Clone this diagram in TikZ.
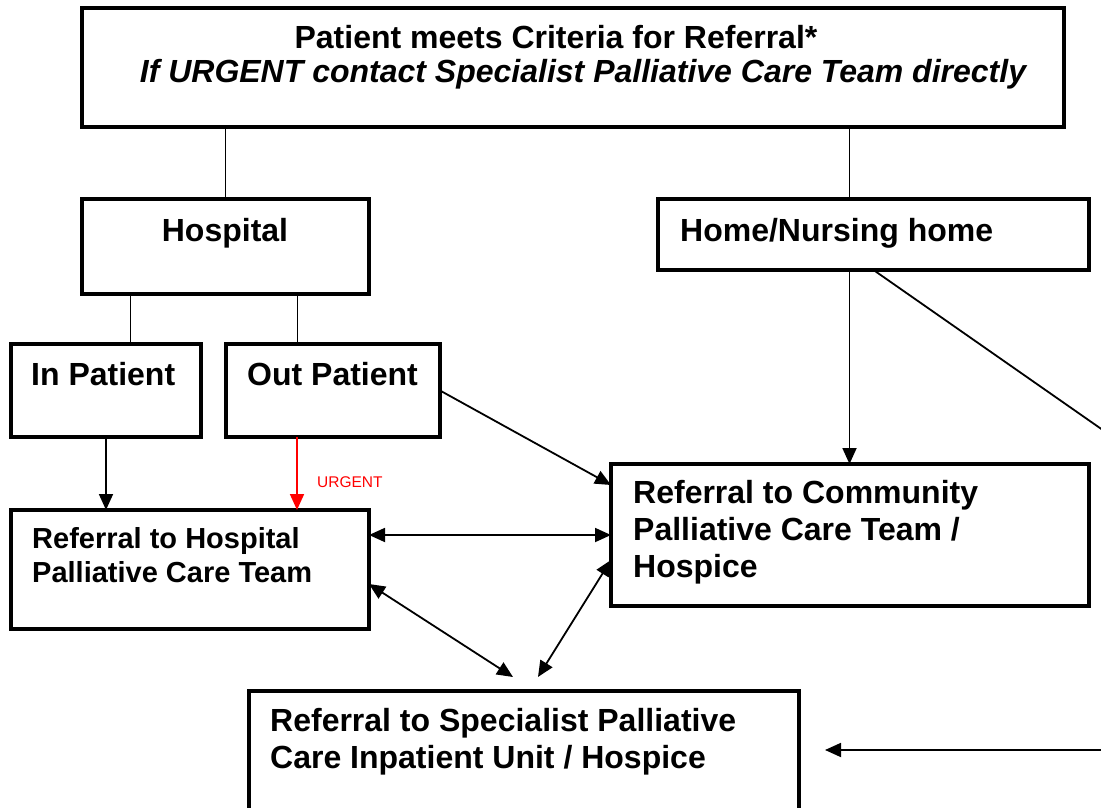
\documentclass[tikz,border=0pt]{standalone}
\usepackage{fontspec}
\setmainfont{Liberation Sans}
\usetikzlibrary{arrows.meta}
\begin{document}
\begin{tikzpicture}[
        x           = 1pt,
        y           = -1pt,
        box/.style  = {draw, black, line width=3.2pt, outer sep=0pt, inner sep=0pt, anchor=north west},
        txt/.style  = {inner sep=0pt, align=left, font=\fontsize{32}{37}\selectfont\bfseries},
        link/.style = {draw, black, line width=1.8pt},
        arr/.style  = {link, -{Triangle[length=16pt,width=14pt]}},
        both/.style = {link, {Triangle[length=16pt,width=14pt]}-{Triangle[length=16pt,width=14pt]}},
        urgent/.style = {inner sep=0pt, red, font=\fontsize{15.5}{18}\selectfont},
      ]
    \clip (0,0) rectangle (1101,808);
    % boxes
    \node[box, minimum width=982pt, minimum height=119pt] (top) at (82,8) {};
    \node[box, minimum width=287pt, minimum height=95pt] (hosp) at (82,199) {};
    \node[box, minimum width=431pt, minimum height=71pt] (home) at (658,199) {};
    \node[box, minimum width=190pt, minimum height=93pt] (inpat) at (11,344) {};
    \node[box, minimum width=214pt, minimum height=93pt] (outpat) at (226,344) {};
    \node[box, minimum width=358pt, minimum height=119pt] (hosprf) at (11,510) {};
    \node[box, minimum width=478pt, minimum height=142pt] (comm) at (611,464) {};
    \node[box, minimum width=550pt, minimum height=150pt] (spec) at (249,691) {};
    % texts (base = last line)
    \node[txt, anchor=base] (toptxt) at (556,49) {Patient meets Criteria for Referral*};
    \node[txt, anchor=base] (urgtxt) at (583,83) {\itshape If URGENT contact Specialist Palliative Care Team directly};
    \node[txt, anchor=base] (hosptxt) at (225,241) {Hospital};
    \node[txt, anchor=base west] (hometxt) at (680,241) {Home/Nursing home};
    \node[txt, anchor=base west] (intxt) at (31,385) {In Patient};
    \node[txt, anchor=base west] (outtxt) at (247,385) {Out Patient};
    \node[txt, anchor=base west, font=\fontsize{29}{34}\selectfont\bfseries] (hosprftxt) at (32,582) {Referral to Hospital\\Palliative Care Team};
    \node[txt, anchor=base west] (commtxt) at (633,577) {Referral to Community\\Palliative Care Team /\\Hospice};
    \node[txt, anchor=base west] (spectxt) at (270,768) {Referral to Specialist Palliative\\Care Inpatient Unit / Hospice};
    \node[urgent, anchor=base west] (urg) at (317,487) {URGENT};
    % loose ends
    \coordinate (offtop) at (1130,449);
    \coordinate (offbot) at (1130,750);
    % connectors
    \draw[link] (hosp.north |- top.south) -- (hosp.north);
    \draw[link] ([xshift=-24pt]home.north |- top.south) -- ([xshift=-24pt]home.north);
    \draw[link] ([xshift=-95pt]hosp.south) -- ([xshift=-95pt]hosp.south |- inpat.north);
    \draw[link] ([xshift=72pt]hosp.south) -- ([xshift=72pt]hosp.south |- outpat.north);
    \draw[arr] (inpat.south) -- (inpat.south |- hosprf.north);
    \draw[arr, red] ([xshift=-36pt]outpat.south) -- ([xshift=-36pt]outpat.south |- hosprf.north);
    \draw[arr] (outpat.east) -- ([yshift=-21pt]comm.north west);
    \draw[arr] ([xshift=-24pt]home.south) -- ([xshift=-24pt]home.south |- comm.north);
    \draw[link] (home.south) -- (offtop);
    \draw[both] (hosprf.east |- comm.west) -- (comm.west);
    \draw[both] ([yshift=-74pt]hosprf.north east) -- ([shift={(-11pt,14pt)}]spec.north);
    \draw[both] ([yshift=-25pt]comm.west) -- ([shift={(14pt,14pt)}]spec.north);
    \draw[arr] (offbot) -- ([xshift=26pt]offbot -| spec.east);
\end{tikzpicture}
\end{document}
